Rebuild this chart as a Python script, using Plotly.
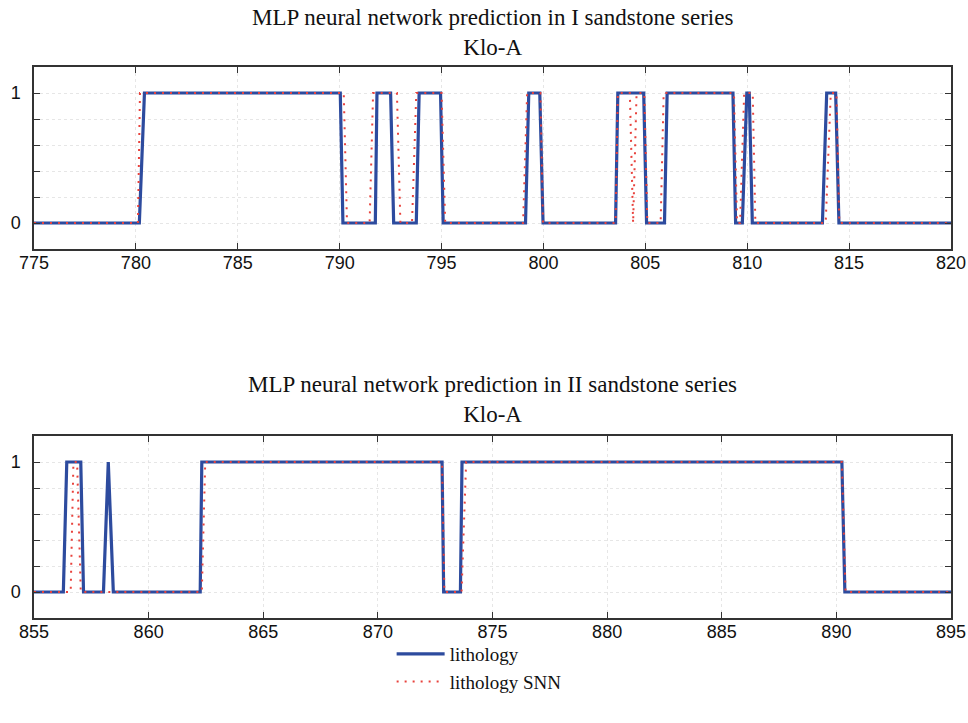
import plotly.graph_objects as go

# ---- Data ----
depth_I = [775, 780.17, 780.42, 790.03, 790.16, 791.75, 791.83, 792.5, 792.65, 793.76, 793.9,
           794.95, 795.08, 799.12, 799.28, 799.82, 799.98, 803.54, 803.65, 804.92, 805.06,
           805.94, 806.07, 809.3, 809.43, 809.76, 809.98, 810.1, 810.25, 813.69, 813.9,
           814.34, 814.5, 820]
lith_I = [0, 0, 1, 1, 0, 0, 1, 1, 0, 0, 1,
          1, 0, 0, 1, 1, 0, 0, 1, 1, 0,
          0, 1, 1, 0, 0, 1, 1, 0, 0, 1,
          1, 0, 0]

depth_I_snn = [775, 780.1, 780.2, 790.2, 790.36, 791.47, 791.64, 792.81, 792.98, 793.55, 793.76,
               795.0, 795.18, 799.0, 799.2, 799.85, 799.98, 803.54, 803.65, 804.24, 804.4,
               804.57, 804.95, 805.1, 805.75, 805.9, 809.35, 809.5, 809.65, 809.85, 810.27,
               810.4, 813.85, 814.1, 814.38, 814.52, 820]
lith_I_snn = [0, 0, 1, 1, 0, 0, 1, 1, 0, 0, 1,
              1, 0, 0, 1, 1, 0, 0, 1, 1, 0,
              1, 1, 0, 0, 1, 1, 0, 0, 1, 1,
              0, 0, 1, 1, 0, 0]

depth_II = [855, 856.28, 856.43, 857.04, 857.16, 858.03, 858.24, 858.46, 862.25, 862.32,
            872.8, 872.87, 873.6, 873.67, 890.24, 890.37, 895]
lith_II = [0, 0, 1, 1, 0, 0, 1, 0, 0, 1,
           1, 0, 0, 1, 1, 0, 0]

depth_II_snn = [855, 856.6, 856.72, 856.88, 857.04, 862.32, 862.47, 872.8, 872.9, 873.65,
                873.85, 890.24, 890.4, 895]
lith_II_snn = [0, 0, 1, 1, 0, 0, 1, 1, 0, 0,
               1, 1, 0, 0]

x_ticks_I = [775, 780, 785, 790, 795, 800, 805, 810, 815, 820]
x_ticks_II = [855, 860, 865, 870, 875, 880, 885, 890, 895]
y_ticks = [0, 0.2, 0.4, 0.6, 0.8, 1]
y_text = ["0", "", "", "", "", "1"]

title_I = "MLP neural network prediction in I sandstone series<br>Klo-A"
title_II = "MLP neural network prediction in II sandstone series<br>Klo-A"

BLUE = "#2d4b9e"
RED = "#e8423c"
SERIF = "Liberation Serif"
SANS = "Liberation Sans, Arial"

fig = go.Figure()
fig.add_trace(go.Scatter(x=depth_I, y=lith_I, mode="lines", name="lithology",
                         line=dict(color=BLUE, width=3.2), xaxis="x", yaxis="y"))
fig.add_trace(go.Scatter(x=depth_I_snn, y=lith_I_snn, mode="lines", name="lithology SNN",
                         line=dict(color=RED, width=2, dash="2px,6px"), xaxis="x", yaxis="y"))
fig.add_trace(go.Scatter(x=depth_II, y=lith_II, mode="lines", name="lithology",
                         line=dict(color=BLUE, width=3.2), xaxis="x2", yaxis="y2", showlegend=False))
fig.add_trace(go.Scatter(x=depth_II_snn, y=lith_II_snn, mode="lines", name="lithology SNN",
                         line=dict(color=RED, width=2, dash="2px,6px"), xaxis="x2", yaxis="y2",
                         showlegend=False))

H = 723.0
def dom(top_px, bot_px):
    return [1 - bot_px / H, 1 - top_px / H]

xcommon = dict(showline=True, linecolor="#333333", linewidth=1.5, mirror="ticks",
               ticks="inside", ticklen=6, tickcolor="#333333",
               showgrid=True, gridcolor="#e6e6e6", griddash="dot", gridwidth=1,
               zeroline=False, ticklabelstandoff=-3,
               tickfont=dict(family=SANS, size=18, color="#111111"))
ycommon = dict(showline=True, linecolor="#333333", linewidth=1.5, mirror="ticks",
               ticks="inside", ticklen=6, tickcolor="#333333",
               showgrid=True, gridcolor="#e6e6e6", griddash="dot", gridwidth=1,
               zeroline=False, range=[-0.2, 1.2], tickvals=y_ticks, ticktext=y_text,
               ticklabelstandoff=8,
               tickfont=dict(family=SANS, size=18, color="#111111"))

fig.update_layout(
    width=968, height=723,
    margin=dict(l=34, r=17, t=0, b=0),
    paper_bgcolor="white", plot_bgcolor="white",
    xaxis=dict(xcommon, domain=[0, 1], range=[775, 820], tickvals=x_ticks_I, anchor="y"),
    yaxis=dict(ycommon, domain=dom(67, 249), anchor="x"),
    xaxis2=dict(xcommon, domain=[0, 1], range=[855, 895], tickvals=x_ticks_II, anchor="y2"),
    yaxis2=dict(ycommon, domain=dom(436, 618), anchor="x2"),
    showlegend=True,
    legend=dict(x=0.39, y=1 - 635 / H, xanchor="left", yanchor="top",
                font=dict(family=SERIF, size=19, color="#111111"),
                bgcolor="rgba(0,0,0,0)", tracegroupgap=0, itemwidth=48),
    annotations=[
        dict(text=title_I, xref="paper", yref="paper", x=0.5, y=1 - 3 / H,
             xanchor="center", yanchor="top", showarrow=False,
             font=dict(family=SERIF, size=23, color="#111111")),
        dict(text=title_II, xref="paper", yref="paper", x=0.5, y=1 - 370 / H,
             xanchor="center", yanchor="top", showarrow=False,
             font=dict(family=SERIF, size=23, color="#111111")),
    ],
)

fig.write_html("out.html", config={"displayModeBar": False},
               post_script="document.body.style.margin='0';")
